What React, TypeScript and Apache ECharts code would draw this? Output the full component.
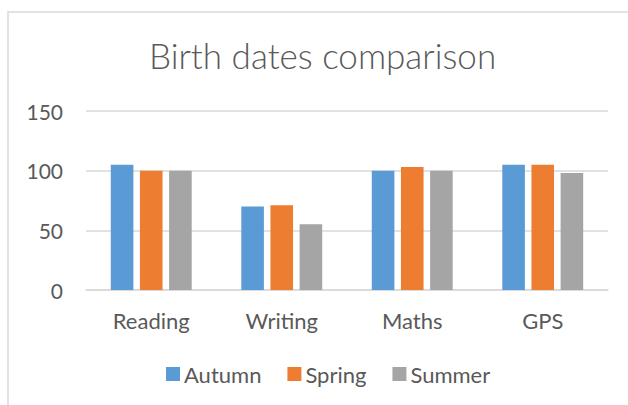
import React, { useEffect, useRef } from "react";
import * as echarts from "echarts";

const categories = ["Reading", "Writing", "Maths", "GPS"];
const autumn = [105, 70, 100, 105];
const spring = [100, 71, 103, 105];
const summer = [100, 55, 100, 98];
const yTicks = { min: 0, max: 150, interval: 50 };

export default function App() {
  const ref = useRef<HTMLDivElement>(null);
  useEffect(() => {
    const chart = echarts.init(ref.current!, null, { renderer: "svg" });
    const font = "Lato, 'Open Sans', sans-serif";
    const textColor = "#595959";
    chart.setOption({
      animation: false,
      backgroundColor: "#ffffff",
      textStyle: { fontFamily: font },
      title: {
        text: "Birth dates comparison",
        left: 144,
        top: 32,
        textStyle: { fontFamily: font, fontSize: 35, fontWeight: 300, color: textColor },
      },
      graphic: [
        {
          type: "rect",
          shape: { x: 8, y: 12, width: 700, height: 500 },
          style: { fill: "none", stroke: "#d9d9d9", lineWidth: 1.5 },
          silent: true,
        },
      ],
      legend: {
        bottom: 15,
        left: 161,
        itemWidth: 14,
        itemHeight: 14,
        itemGap: 26,
        icon: "rect",
        textStyle: { fontFamily: font, fontSize: 22, color: textColor, padding: [0, 0, 0, -1] },
        data: ["Autumn", "Spring", "Summer"],
      },
      grid: { left: 86, right: 20, top: 111, bottom: 115 },
      xAxis: {
        type: "category",
        data: categories,
        axisLine: { lineStyle: { color: "#d9d9d9", width: 1.5 } },
        axisTick: { show: false },
        axisLabel: { fontFamily: font, fontSize: 22, color: textColor, margin: 19 },
      },
      yAxis: {
        type: "value",
        min: yTicks.min,
        max: yTicks.max,
        interval: yTicks.interval,
        axisLine: { show: false },
        axisTick: { show: false },
        splitLine: { lineStyle: { color: "#d9d9d9", width: 1.5 } },
        axisLabel: { fontFamily: font, fontSize: 21, color: textColor, margin: 23 },
      },
      series: [
        { name: "Autumn", type: "bar", data: autumn, itemStyle: { color: "#5b9bd5" }, barGap: "29%", barCategoryGap: "38%" },
        { name: "Spring", type: "bar", data: spring, itemStyle: { color: "#ed7d31" } },
        { name: "Summer", type: "bar", data: summer, itemStyle: { color: "#a5a5a5" } },
      ],
    });
    return () => chart.dispose();
  }, []);
  return (
    <div
      ref={ref}
      style={{ position: "fixed", left: 0, top: 0, width: 628, height: 405 }}
    />
  );
}
